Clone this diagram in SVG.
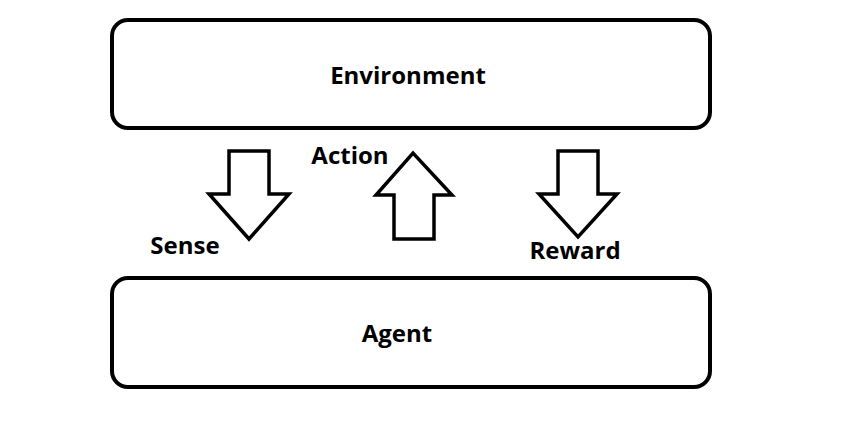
<svg xmlns="http://www.w3.org/2000/svg" width="858" height="424" viewBox="0 0 858 424">
<style>
.box{fill:#fff;stroke:#000;stroke-width:4}
.arr{fill:#fff;stroke:#000;stroke-width:3.5;stroke-linejoin:miter}
.t{font-family:"Open Sans","DejaVu Sans",sans-serif;font-weight:bold;font-size:24px;fill:#000}
</style>
<rect width="858" height="424" fill="#fff"/>
<g id="environment">
<rect class="box" x="112" y="20" width="598" height="108" rx="16"/>
<text class="t" x="408" y="84" text-anchor="middle">Environment</text>
</g>
<g id="agent">
<rect class="box" x="112" y="278" width="598" height="109" rx="16"/>
<text class="t" x="397" y="342" text-anchor="middle">Agent</text>
</g>
<g id="connectors">
<polygon class="arr" points="229,151 269,151 269,194 289,194 249,239 209,194 229,194"/>
<polygon class="arr" points="394,239 434,239 434,195 452,195 413,153 376,195 394,195"/>
<polygon class="arr" points="558,151 598,151 598,194 617,194 578,237 539,194 558,194"/>
<text class="t" x="350" y="164" text-anchor="middle">Action</text>
<text class="t" x="185" y="254" text-anchor="middle">Sense</text>
<text class="t" x="575" y="259" text-anchor="middle">Reward</text>
</g>
</svg>
